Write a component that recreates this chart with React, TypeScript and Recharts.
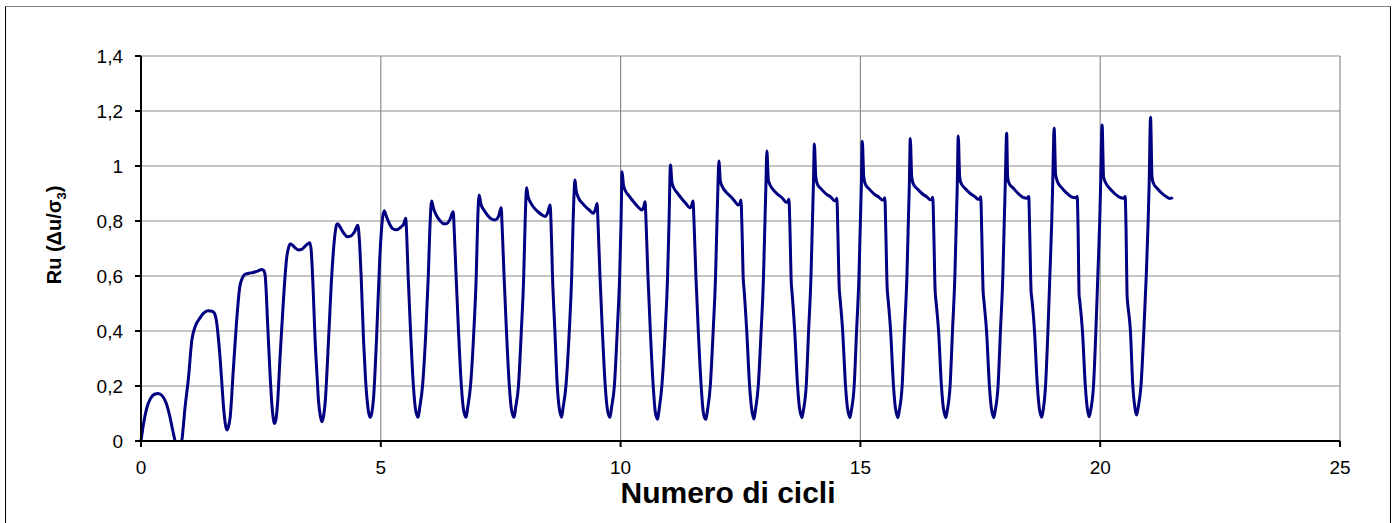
import React from "react";
import { LineChart, Line, XAxis, YAxis, CartesianGrid } from "recharts";

// [numero di cicli, Ru], one list per cycle
const c0 = [[0, 0], [0.05, 0.06], [0.12, 0.12], [0.2, 0.155], [0.28, 0.17], [0.36, 0.173], [0.44, 0.165], [0.52, 0.14], [0.6, 0.09], [0.66, 0.04], [0.71, 0], [0.76, -0.04], [0.8, -0.03], [0.85, 0]];
const c1 = [[0.92, 0.125], [0.99, 0.23], [1.06, 0.367], [1.13, 0.416], [1.22, 0.445], [1.3, 0.464], [1.4, 0.474], [1.48, 0.472], [1.53, 0.465], [1.57, 0.44], [1.61, 0.38], [1.65, 0.3], [1.69, 0.2], [1.72, 0.125], [1.76, 0.06], [1.79, 0.04]];
const c2 = [[1.82, 0.05], [1.86, 0.088], [1.92, 0.246], [1.99, 0.428], [2.06, 0.561], [2.12, 0.595], [2.17, 0.606], [2.25, 0.61], [2.34, 0.613], [2.43, 0.618], [2.52, 0.624], [2.56, 0.62], [2.59, 0.6], [2.64, 0.428], [2.69, 0.246], [2.73, 0.13], [2.76, 0.08], [2.78, 0.064]];
const c3 = [[2.81, 0.075], [2.84, 0.12], [2.9, 0.307], [2.97, 0.513], [3.04, 0.67], [3.08, 0.705], [3.11, 0.716], [3.16, 0.712], [3.21, 0.703], [3.28, 0.695], [3.35, 0.697], [3.45, 0.713], [3.52, 0.721], [3.55, 0.69], [3.59, 0.55], [3.63, 0.367], [3.67, 0.24], [3.7, 0.149], [3.74, 0.09], [3.77, 0.07]];
const c4 = [[3.8, 0.085], [3.84, 0.14], [3.91, 0.367], [3.98, 0.61], [4.04, 0.745], [4.08, 0.787], [4.1, 0.79], [4.16, 0.775], [4.22, 0.758], [4.3, 0.743], [4.37, 0.745], [4.45, 0.76], [4.52, 0.785], [4.55, 0.74], [4.59, 0.6], [4.64, 0.367], [4.68, 0.23], [4.72, 0.14], [4.75, 0.1], [4.78, 0.086]];
const c5 = [[4.81, 0.1], [4.85, 0.16], [4.91, 0.367], [4.98, 0.67], [5.03, 0.8], [5.07, 0.837], [5.12, 0.815], [5.18, 0.79], [5.25, 0.772], [5.33, 0.768], [5.42, 0.778], [5.48, 0.79], [5.52, 0.81], [5.54, 0.75], [5.57, 0.6], [5.62, 0.4], [5.68, 0.2], [5.72, 0.12], [5.75, 0.095], [5.78, 0.086]];
const c6 = [[5.81, 0.12], [5.87, 0.2], [5.94, 0.4], [5.99, 0.6], [6.03, 0.8], [6.06, 0.873], [6.1, 0.845], [6.16, 0.82], [6.24, 0.8], [6.31, 0.79], [6.37, 0.79], [6.44, 0.805], [6.51, 0.834], [6.53, 0.77], [6.57, 0.6], [6.62, 0.4], [6.68, 0.2], [6.72, 0.12], [6.75, 0.095], [6.78, 0.086]];
const c7 = [[6.81, 0.12], [6.87, 0.2], [6.94, 0.4], [6.99, 0.6], [7.02, 0.8], [7.05, 0.895], [7.09, 0.86], [7.15, 0.84], [7.23, 0.82], [7.3, 0.808], [7.38, 0.804], [7.45, 0.815], [7.51, 0.848], [7.53, 0.78], [7.57, 0.6], [7.62, 0.4], [7.68, 0.2], [7.72, 0.12], [7.75, 0.095], [7.78, 0.086]];
const c8 = [[7.81, 0.12], [7.87, 0.2], [7.93, 0.4], [7.98, 0.6], [8.01, 0.8], [8.04, 0.921], [8.07, 0.89], [8.13, 0.865], [8.21, 0.845], [8.3, 0.83], [8.38, 0.82], [8.43, 0.816], [8.48, 0.83], [8.53, 0.858], [8.55, 0.79], [8.58, 0.6], [8.63, 0.4], [8.68, 0.2], [8.72, 0.12], [8.75, 0.095], [8.77, 0.086]];
const c9 = [[8.8, 0.12], [8.86, 0.2], [8.93, 0.4], [8.98, 0.6], [9.01, 0.8], [9.05, 0.949], [9.07, 0.915], [9.12, 0.885], [9.2, 0.865], [9.28, 0.85], [9.36, 0.838], [9.43, 0.828], [9.47, 0.84], [9.51, 0.864], [9.53, 0.79], [9.57, 0.6], [9.62, 0.4], [9.68, 0.2], [9.72, 0.12], [9.75, 0.095], [9.78, 0.086]];
const c10 = [[9.81, 0.12], [9.87, 0.2], [9.93, 0.4], [9.98, 0.6], [10.01, 0.8], [10.03, 0.979], [10.06, 0.93], [10.1, 0.91], [10.18, 0.89], [10.27, 0.87], [10.36, 0.852], [10.44, 0.84], [10.48, 0.85], [10.51, 0.87], [10.53, 0.8], [10.57, 0.6], [10.62, 0.4], [10.68, 0.2], [10.72, 0.11], [10.75, 0.085], [10.77, 0.079]];
const c11 = [[10.8, 0.11], [10.86, 0.2], [10.93, 0.4], [10.98, 0.6], [11.01, 0.8], [11.04, 1.004], [11.07, 0.94], [11.11, 0.92], [11.19, 0.9], [11.28, 0.88], [11.37, 0.862], [11.44, 0.848], [11.48, 0.856], [11.51, 0.873], [11.53, 0.8], [11.57, 0.6], [11.62, 0.4], [11.68, 0.2], [11.72, 0.11], [11.75, 0.085], [11.78, 0.079]];
const c12 = [[11.81, 0.11], [11.87, 0.2], [11.93, 0.4], [11.98, 0.6], [12.01, 0.8], [12.03, 0.93], [12.05, 1.018], [12.08, 0.945], [12.12, 0.925], [12.2, 0.905], [12.29, 0.89], [12.38, 0.872], [12.45, 0.858], [12.48, 0.862], [12.51, 0.876], [12.53, 0.78], [12.56, 0.58], [12.57, 0.56], [12.63, 0.4], [12.69, 0.2], [12.73, 0.12], [12.76, 0.09], [12.78, 0.08]];
const c13 = [[12.81, 0.11], [12.87, 0.2], [12.93, 0.4], [12.98, 0.6], [13.01, 0.8], [13.03, 0.93], [13.05, 1.055], [13.08, 0.95], [13.12, 0.93], [13.2, 0.91], [13.29, 0.895], [13.38, 0.882], [13.45, 0.868], [13.48, 0.87], [13.51, 0.879], [13.53, 0.78], [13.56, 0.57], [13.57, 0.55], [13.63, 0.4], [13.69, 0.2], [13.73, 0.12], [13.76, 0.095], [13.78, 0.085]];
const c14 = [[13.81, 0.11], [13.87, 0.2], [13.92, 0.4], [13.97, 0.6], [14.0, 0.8], [14.02, 0.93], [14.04, 1.08], [14.07, 0.96], [14.1, 0.935], [14.19, 0.915], [14.29, 0.898], [14.39, 0.886], [14.46, 0.874], [14.49, 0.876], [14.51, 0.883], [14.53, 0.76], [14.56, 0.55], [14.57, 0.53], [14.63, 0.4], [14.69, 0.2], [14.73, 0.12], [14.76, 0.095], [14.78, 0.085]];
const c15 = [[14.81, 0.11], [14.87, 0.2], [14.92, 0.4], [14.97, 0.6], [15.0, 0.8], [15.02, 0.93], [15.04, 1.09], [15.07, 0.96], [15.1, 0.935], [15.19, 0.915], [15.29, 0.898], [15.39, 0.886], [15.46, 0.876], [15.49, 0.878], [15.51, 0.885], [15.53, 0.76], [15.56, 0.55], [15.57, 0.53], [15.63, 0.4], [15.69, 0.2], [15.73, 0.12], [15.76, 0.095], [15.78, 0.085]];
const c16 = [[15.81, 0.11], [15.87, 0.2], [15.92, 0.4], [15.97, 0.6], [16.0, 0.8], [16.02, 0.93], [16.04, 1.1], [16.07, 0.96], [16.1, 0.936], [16.19, 0.916], [16.29, 0.899], [16.39, 0.887], [16.46, 0.877], [16.49, 0.879], [16.51, 0.886], [16.53, 0.76], [16.56, 0.54], [16.57, 0.52], [16.63, 0.4], [16.69, 0.2], [16.73, 0.12], [16.76, 0.095], [16.78, 0.085]];
const c17 = [[16.81, 0.11], [16.87, 0.2], [16.92, 0.4], [16.97, 0.6], [17.0, 0.8], [17.02, 0.93], [17.04, 1.109], [17.07, 0.96], [17.1, 0.937], [17.19, 0.917], [17.29, 0.9], [17.39, 0.888], [17.46, 0.879], [17.49, 0.881], [17.51, 0.888], [17.53, 0.76], [17.56, 0.54], [17.57, 0.52], [17.63, 0.4], [17.69, 0.2], [17.73, 0.12], [17.76, 0.095], [17.78, 0.085]];
const c18 = [[17.81, 0.11], [17.87, 0.2], [17.92, 0.4], [17.97, 0.6], [18.0, 0.8], [18.02, 0.93], [18.05, 1.119], [18.07, 0.96], [18.1, 0.937], [18.19, 0.919], [18.29, 0.9], [18.4, 0.885], [18.47, 0.883], [18.49, 0.885], [18.51, 0.889], [18.53, 0.76], [18.56, 0.54], [18.57, 0.525], [18.63, 0.4], [18.69, 0.2], [18.73, 0.12], [18.76, 0.095], [18.78, 0.086]];
const c19 = [[18.81, 0.11], [18.86, 0.2], [18.91, 0.4], [18.95, 0.6], [18.99, 0.8], [19.01, 0.94], [19.04, 1.137], [19.07, 0.97], [19.11, 0.943], [19.19, 0.922], [19.29, 0.903], [19.4, 0.888], [19.48, 0.885], [19.5, 0.886], [19.52, 0.889], [19.54, 0.76], [19.56, 0.53], [19.57, 0.515], [19.63, 0.4], [19.69, 0.2], [19.73, 0.12], [19.75, 0.1], [19.77, 0.088]];
const c20 = [[19.8, 0.11], [19.86, 0.2], [19.91, 0.4], [19.95, 0.6], [19.99, 0.8], [20.01, 0.94], [20.04, 1.149], [20.07, 0.96], [20.12, 0.937], [20.2, 0.918], [20.3, 0.9], [20.4, 0.887], [20.48, 0.883], [20.5, 0.885], [20.52, 0.889], [20.54, 0.76], [20.56, 0.53], [20.57, 0.507], [20.63, 0.4], [20.68, 0.2], [20.72, 0.125], [20.74, 0.105], [20.76, 0.095]];
const c21 = [[20.79, 0.12], [20.85, 0.2], [20.91, 0.4], [20.96, 0.6], [21.0, 0.8], [21.02, 0.93], [21.05, 1.177], [21.08, 0.96], [21.11, 0.937], [21.19, 0.918], [21.29, 0.9], [21.38, 0.888], [21.45, 0.882], [21.49, 0.883], [21.51, 0.886]];

const cycles = [c0, c1, c2, c3, c4, c5, c6, c7, c8, c9, c10, c11, c12, c13, c14, c15, c16, c17, c18, c19, c20, c21];

const xTicks = [0, 5, 10, 15, 20, 25];
const yTicks = [0, 0.2, 0.4, 0.6, 0.8, 1, 1.2, 1.4];

const data = cycles.flat().map(([x, ru]) => ({ x, ru }));

const FONT = "Arial, 'Liberation Sans', sans-serif";

const formatY = (v: number) => String(v).replace(".", ",");

const YLabel = () => (
  <text
    transform="translate(61, 235) rotate(-90)"
    textAnchor="middle"
    fontFamily={FONT}
    fontWeight="bold"
    fontSize={20}
    fill="#000"
  >
    Ru (Δu/σ
    <tspan dy={5} fontSize={13}>
      3
    </tspan>
    <tspan dy={-5}>)</tspan>
  </text>
);

const XLabel = () => (
  <text
    x={728}
    y={503}
    textAnchor="middle"
    fontFamily={FONT}
    fontWeight="bold"
    fontSize={30}
    fill="#000"
  >
    Numero di cicli
  </text>
);

export default function App() {
  return (
    <div
      style={{
        position: "absolute",
        left: 0,
        top: 0,
        width: 1394,
        height: 523,
        background: "#fff",
        overflow: "hidden",
        fontFamily: FONT,
      }}
    >
      <div
        style={{
          position: "absolute",
          left: 5,
          top: 6,
          width: 1384,
          height: 600,
          border: "1px solid #000",
          borderTopColor: "#808080",
        }}
      />
      <LineChart
        width={1394}
        height={523}
        data={data}
        margin={{ top: 56, right: 54, bottom: 0, left: 0 }}
        style={{ position: "absolute", left: 0, top: 0 }}
      >
        <CartesianGrid stroke="#8c8c8c" strokeWidth={1.2} />
        <XAxis
          type="number"
          dataKey="x"
          domain={[0, 25]}
          ticks={xTicks}
          height={82}
          tickSize={6}
          tickMargin={14}
          stroke="#000"
          strokeWidth={2}
          fontSize={19}
          tick={{ fill: "#000", fontSize: 19, fontFamily: FONT }}
          label={<XLabel />}
        />
        <YAxis
          type="number"
          domain={[0, 1.4]}
          ticks={yTicks}
          allowDataOverflow
          width={141}
          tickSize={6}
          tickMargin={12}
          stroke="#000"
          strokeWidth={2}
          fontSize={19}
          tickFormatter={formatY}
          tick={{ fill: "#000", fontSize: 19, fontFamily: FONT }}
          label={<YLabel />}
        />
        <Line
          type="monotone"
          dataKey="ru"
          stroke="#000080"
          strokeWidth={3}
          dot={false}
          isAnimationActive={false}
        />
      </LineChart>
    </div>
  );
}
